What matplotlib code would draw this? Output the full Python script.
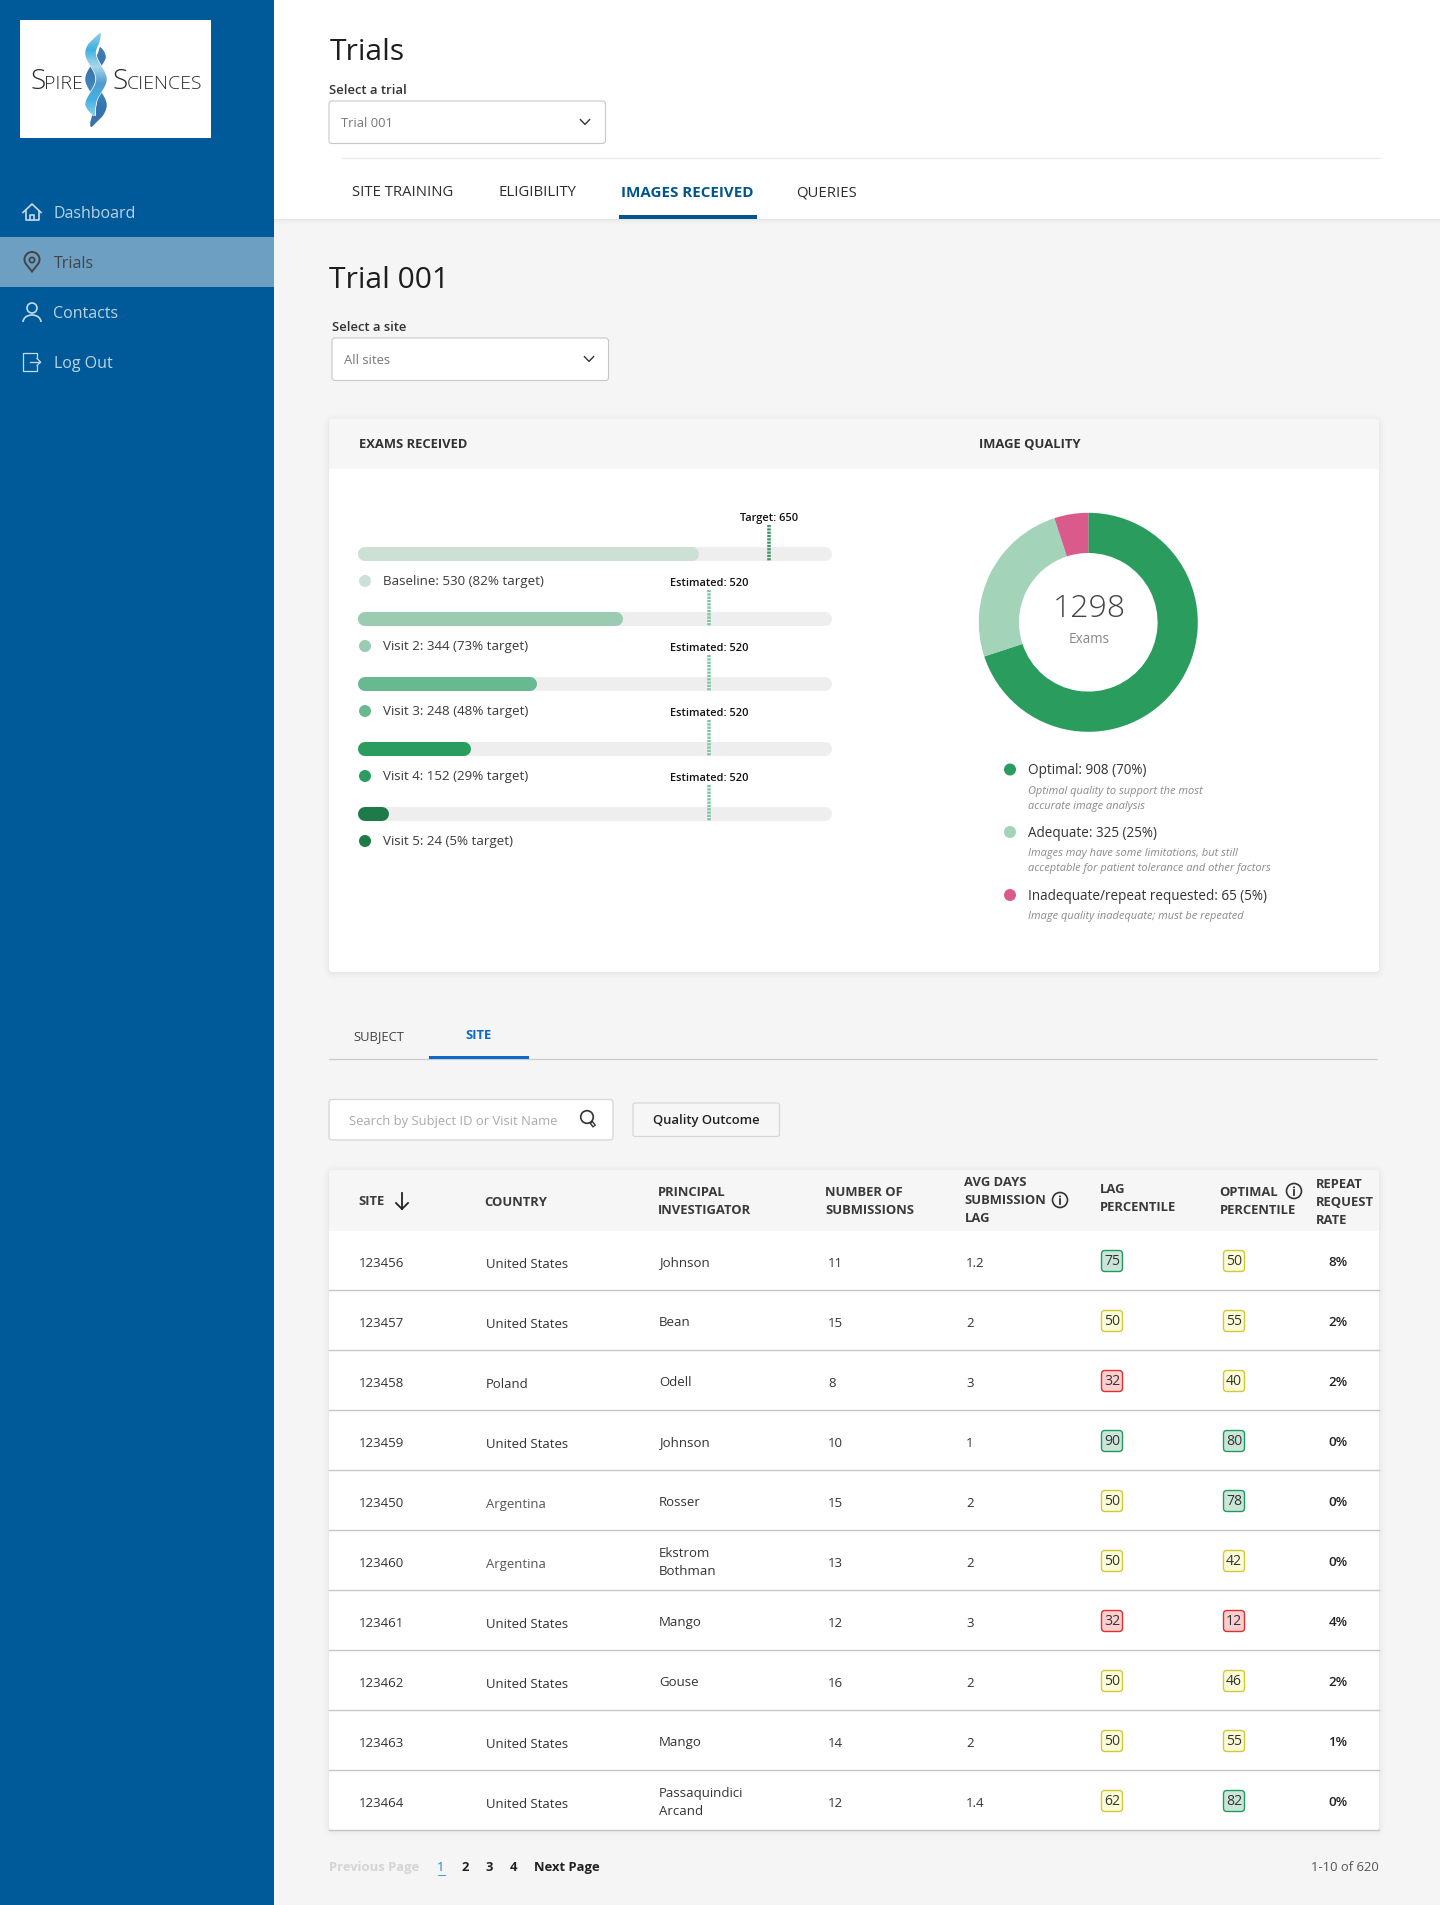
import numpy as np
import matplotlib
matplotlib.use("Agg")
import matplotlib.pyplot as plt
from matplotlib.patches import FancyBboxPatch, Rectangle, Circle, Polygon, Arc

plt.rcParams['font.family'] = ['Open Sans', 'DejaVu Sans']

W, H = 1440, 1905

# ---- data ----
nav_items = ["Dashboard", "Trials", "Contacts", "Log Out"]
top_tabs = ["SITE TRAINING", "ELIGIBILITY", "IMAGES RECEIVED", "QUERIES"]

visit_labels = ["Baseline: 530 (82% target)", "Visit 2: 344 (73% target)", "Visit 3: 248 (48% target)",
                "Visit 4: 152 (29% target)", "Visit 5: 24 (5% target)"]
bar_fill_pct = [72.0, 56.0, 37.8, 23.9, 6.5]
bar_colors = ["#cde0d5", "#9bcbb0", "#68b98f", "#299c5e", "#1f7a4a"]
marker_labels = ["Target: 650", "Estimated: 520", "Estimated: 520", "Estimated: 520", "Estimated: 520"]
marker_pct = [86.7, 74.0, 74.0, 74.0, 74.0]
marker_colors = ["#3f9469", "#7fc6a3", "#7fc6a3", "#7fc6a3", "#7fc6a3"]

quality_values = [908, 325, 65]
quality_colors = ["#2a9c5e", "#a3d3b8", "#db5a8c"]
quality_labels = ["Optimal: 908 (70%)", "Adequate: 325 (25%)", "Inadequate/repeat requested: 65 (5%)"]
quality_notes = [["Optimal quality to support the most", "accurate image analysis"],
                 ["Images may have some limitations, but still", "acceptable for patient tolerance and other factors"],
                 ["Image quality inadequate; must be repeated"]]

site_ids = ["123456", "123457", "123458", "123459", "123450", "123460", "123461", "123462", "123463", "123464"]
countries = ["United States", "United States", "Poland", "United States", "Argentina",
             "Argentina", "United States", "United States", "United States", "United States"]
investigators = ["Johnson", "Bean", "Odell", "Johnson", "Rosser", "Ekstrom\nBothman",
                 "Mango", "Gouse", "Mango", "Passaquindici\nArcand"]
submissions = ["11", "15", "8", "10", "15", "13", "12", "16", "14", "12"]
avg_days = ["1.2", "2", "3", "1", "2", "2", "3", "2", "2", "1.4"]
lag_pct = [75, 50, 32, 90, 50, 50, 32, 50, 50, 62]
optimal_pct = [50, 55, 40, 80, 78, 42, 12, 46, 55, 82]
repeat_rate = ["8%", "2%", "2%", "0%", "0%", "0%", "4%", "2%", "1%", "0%"]
page_numbers = ["1", "2", "3", "4"]

# ---- helpers ----
fig = plt.figure(figsize=(W / 100, H / 100), dpi=100, facecolor="#f5f5f5")
ax = fig.add_axes([0, 0, 1, 1])
ax.set_xlim(0, W)
ax.set_ylim(H, 0)
ax.axis("off")


def px(s):
    return s * 0.72


def T(x, y, s, size=14, color="#333333", weight="normal", ha="left", va="center", style="normal", a=ax, z=10):
    return a.text(x, y + 1.2, s, fontsize=px(size), color=color, fontweight=weight, ha=ha, va=va,
                  fontstyle=style, zorder=z)


def rrect(x0, y0, x1, y1, r=3, fc="white", ec="none", lw=0, z=2, alpha=None):
    p = FancyBboxPatch((x0 + r, y0 + r), x1 - x0 - 2 * r, y1 - y0 - 2 * r,
                       boxstyle=f"round,pad={r},rounding_size={r}", fc=fc, ec=ec, lw=lw, zorder=z, alpha=alpha)
    ax.add_patch(p)
    return p


def shadow(x0, y0, x1, y1, r=5, z=1):
    for d, al in ((6, 0.006), (4, 0.01), (2, 0.012), (1, 0.016)):
        rrect(x0 - d, y0 - d + 1, x1 + d, y1 + d + 1, r + d, fc="black", z=z, alpha=al)


def chevron(cx, cy, color="#333333"):
    ax.plot([cx - 4.6, cx, cx + 4.6], [cy - 2.4, cy + 2.4, cy - 2.4], color=color, lw=1.0, zorder=10)


def info(cx, cy, r=7.5):
    ax.add_patch(Circle((cx, cy), r, fc="none", ec="#333333", lw=1.2, zorder=10))
    ax.plot([cx, cx], [cy - 1, cy + 4], color="#333333", lw=1.3, zorder=10)
    ax.add_patch(Circle((cx, cy - 3.6), 1.0, fc="#333333", ec="none", zorder=10))


# ---- page frame ----
ax.add_patch(Rectangle((274, 0), W - 274, 219, fc="white", ec="none", zorder=1))
for d, al in ((5, .012), (3, .018), (1, .03)):
    ax.add_patch(Rectangle((274, 219), W - 274, d, fc="black", ec="none", alpha=al, zorder=1))
ax.add_patch(Rectangle((0, 0), 274, H, fc="#005a9a", ec="none", zorder=3))
ax.add_patch(Rectangle((0, 237), 274, 50, fc="#6d9fc3", ec="none", zorder=4))

# logo
ax.add_patch(Rectangle((20, 20), 191, 118, fc="white", ec="none", zorder=4))
LOGO = "#2b2b2b"
for x, y, s, fs in ((31, 80.5, "S", 28), (44, 83, "PIRE", 19.5), (113, 80.5, "S", 28), (127, 83, "CIENCES", 19.5)):
    T(x, y, s, fs, LOGO, "light", z=6)


def ribbon(y0, y1, sign, colors, z, halo=False):
    ys = np.linspace(y0, y1, int(y1 - y0) * 2 + 1)
    xc = 96 + sign * 5.4 * np.cos(2 * np.pi * (ys - 27) / 52)
    taper = np.clip((ys - y0) / 11, 0, 1) * np.clip((y1 - ys) / 11, 0, 1)
    hw = 5.2 * taper ** 0.7
    if halo:
        ax.add_patch(Polygon(np.r_[np.c_[xc - hw - 0.9, ys], np.c_[xc + hw + 0.9, ys][::-1]],
                             fc="white", ec="none", zorder=z - 0.05))
    frac = (ys - y0) / (y1 - y0)
    pos = np.linspace(0, 1, len(colors))
    cols = np.array([matplotlib.colors.to_rgb(c) for c in colors])
    for i in range(len(ys) - 1):
        c = [np.interp(frac[i], pos, cols[:, k]) for k in range(3)]
        ax.add_patch(Polygon([(xc[i] - hw[i], ys[i]), (xc[i] + hw[i], ys[i]),
                              (xc[i + 1] + hw[i + 1], ys[i + 1] + .2), (xc[i + 1] - hw[i + 1], ys[i + 1] + .2)],
                             fc=c, ec="none", zorder=z))


ribbon(47, 127, -1, ["#2f6fa9", "#1c5f9f", "#2a76b5", "#1a62a6", "#1f5f9c"], 4.6)
ribbon(33, 116, 1, ["#7fc8ea", "#26a6de", "#9ed2ea", "#3b8fc8", "#2aa8e0", "#7fc8ea"], 4.8, halo=True)

# nav
nav_y = [213, 263, 313, 363]
for name, y in zip(nav_items, nav_y):
    T(53.5, y, name, 16, "#444444" if name == "Trials" else "#bcd3e5", z=6)
IC = "#c6daea"
# home
ax.plot([23, 32, 41], [212.5, 204, 212.5], color=IC, lw=1.2, zorder=6)
ax.plot([25.5, 25.5, 38.5, 38.5], [211, 220, 220, 211], color=IC, lw=1.2, zorder=6)
ax.plot([30, 30, 34, 34], [220, 214.5, 214.5, 220], color=IC, lw=1.2, zorder=6)
# pin
tt = np.linspace(np.radians(-215), np.radians(35), 50)
pinx = 32 + 7.5 * np.cos(tt)
piny = 259.5 + 7.5 * np.sin(tt)
ax.add_patch(Polygon(np.r_[np.c_[pinx, piny], [[32, 271.5]]], fc="none", ec="#444444", lw=1.4, zorder=6))
ax.add_patch(Circle((32, 260), 2.6, fc="none", ec="#444444", lw=1.3, zorder=6))
# person
ax.add_patch(Circle((32, 308), 5, fc="none", ec=IC, lw=1.2, zorder=6))
ax.add_patch(Arc((32, 322), 18, 14, theta1=180, theta2=360, ec=IC, lw=1.2, zorder=6))
# logout
ax.plot([37, 37, 23, 23, 37, 37], [358, 353, 353, 371, 371, 366], color=IC, lw=0.9, zorder=6)
ax.plot([30, 40], [362, 362], color=IC, lw=0.9, zorder=6)
ax.plot([37, 40.5, 37], [358.5, 362, 365.5], color=IC, lw=0.9, zorder=6)

# heading
T(330, 51, "Trials", 30, "#1e1e1e", z=6)
T(329, 89, "Select a trial", 13, "#333333", "semibold")
rrect(329, 101, 605.5, 143.5, 3, "white", "#c8c8c8", 0.8, z=3)
T(341, 122.5, "Trial 001", 13, "#777777")
chevron(585, 122)
ax.plot([342, 1380], [158, 158], color="#ececec", lw=0.9, zorder=3)
tab_x = [352, 499, 621, 796.5]
for name, x in zip(top_tabs, tab_x):
    act = name == "IMAGES RECEIVED"
    T(x, 191.5, name, 15.1 if act else 14.9, "#00558f" if act else "#2c2c2c", "bold" if act else "normal")
ax.add_patch(Rectangle((619, 215), 138, 4, fc="#00558f", ec="none", zorder=4))

T(329, 279, "Trial 001", 30, "#1e1e1e")
T(332, 326, "Select a site", 13, "#333333", "semibold")
rrect(332, 338, 608.5, 380.5, 3, "white", "#c8c8c8", 0.8, z=3)
T(344, 359.5, "All sites", 13, "#777777")
chevron(589, 359)

# card
shadow(329, 419, 1379, 972)
rrect(329, 419, 1379, 972, 4, "white", z=2)
rrect(329, 419, 1379, 475, 4, "#f6f6f6", z=2.1)
ax.add_patch(Rectangle((329, 469), 1050, 12, fc="white", ec="none", zorder=2.2))
T(359, 443.5, "EXAMS RECEIVED", 13, "#333333", "bold")
T(979, 443.5, "IMAGE QUALITY", 13, "#333333", "bold")

# progress bars on their own percent / row scale
TX0, TX1 = 358, 832
BY0, BY1 = 515, 835
STEP = 65
ROW0 = 554
ab = fig.add_axes([TX0 / W, 1 - BY1 / H, (TX1 - TX0) / W, (BY1 - BY0) / H], zorder=5)
ab.patch.set_alpha(0)
ab.axis("off")
ab.set_xlim(0, 100)
ab.set_ylim((BY1 - ROW0) / STEP, (BY0 - ROW0) / STEP)
cap = 7 / (TX1 - TX0) * 100
rows = np.arange(len(bar_fill_pct))
for r, v, c, m, mc in zip(rows, bar_fill_pct, bar_colors, marker_pct, marker_colors):
    ab.plot([cap, 100 - cap], [r, r], color="#eeeeee", lw=px(14), solid_capstyle="round", zorder=1)
    ab.plot([cap, v - cap], [r, r], color=c, lw=px(14), solid_capstyle="round", zorder=2)
    ab.plot([m, m], [r - 29 / STEP, r + 7 / STEP], color=mc, lw=px(3.6), zorder=3,
            linestyle=(0, (0.62, 0.3)), dash_capstyle="butt")

for r, lab, c, mlab, m in zip(rows, visit_labels, bar_colors, marker_labels, marker_pct):
    yy = 581 + STEP * r
    ax.add_patch(Circle((365, yy), 6, fc=c, ec="none", zorder=6))
    T(383, yy - 0.3, lab, 13.45, "#3a3a3a", "medium")
    xm = TX0 + m / 100 * (TX1 - TX0)
    T(xm, 517 + STEP * r, mlab, 11, "#111111", "semibold", ha="center")

# donut
CX, CY, R, RI = 1088.3, 622.3, 109.5, 69.3
ad = fig.add_axes([(CX - R) / W, 1 - (CY + R) / H, 2 * R / W, 2 * R / H], zorder=5)
ad.pie(quality_values, colors=quality_colors, startangle=90, counterclock=False, radius=1,
       wedgeprops=dict(width=(R - RI) / R, edgecolor="none"))
ad.set_xlim(-1, 1)
ad.set_ylim(-1, 1)
T(1089, 607.5, "1298", 32, "#444444", "light", ha="center")
T(1089, 638, "Exams", 13.5, "#888888", ha="center")
leg_y = [769.5, 832, 895]
for y, lab, c, notes in zip(leg_y, quality_labels, quality_colors, quality_notes):
    ax.add_patch(Circle((1010, y), 6, fc=c, ec="none", zorder=6))
    T(1028, y, lab, 13.5, "#333333", "medium")
    for k, n in enumerate(notes):
        T(1028, y + 20.5 + 15 * k, n, 10.95, "#8a8a8a", style="italic")

# sub tabs
T(353, 1035, "SUBJECT", 13, "#444444")
T(479, 1034.5, "SITE", 13, "#0b69c7", "bold", ha="center")
ax.plot([329, 1377], [1059, 1059], color="#cccccc", lw=0.9, zorder=3)
ax.add_patch(Rectangle((429, 1056), 100, 3, fc="#0b69c7", ec="none", zorder=4))
rrect(329, 1099.5, 613, 1140, 3, "white", "#d8d8d8", 1.0, z=3)
T(349, 1120.5, "Search by Subject ID or Visit Name", 13, "#aaaaaa")
ax.add_patch(Circle((587, 1117), 6.3, fc="none", ec="#333333", lw=1.2, zorder=10))
ax.plot([591, 594.5], [1122, 1126.5], color="#333333", lw=3.0, zorder=10, solid_capstyle="butt")
ax.plot([591.8, 593.8], [1123, 1125.6], color="#e6e6e6", lw=1.1, zorder=11, solid_capstyle="butt")
rrect(633, 1103, 779.5, 1136.5, 2, "#f6f6f6", "#d8d8d8", 0.9, z=3)
T(706, 1119.5, "Quality Outcome", 13, "#222222", "semibold", ha="center")

# table
shadow(329, 1170, 1379, 1830)
rrect(329, 1170, 1379, 1830.5, 4, "white", z=2)
rrect(329, 1170, 1379, 1240, 4, "#f6f6f6", z=2.1)
ax.add_patch(Rectangle((329, 1231), 1050, 14, fc="white", ec="none", zorder=2.2))
HB = dict(size=13, color="#3a3a3a", weight="bold")
T(358.5, 1200.5, "SITE", **HB)
ax.plot([402, 402], [1193, 1209], color="#222222", lw=1.3, zorder=10)
ax.plot([396, 402, 408], [1203, 1209, 1203], color="#222222", lw=1.3, zorder=10)
T(484, 1201.5, "COUNTRY", **HB)
for x, lines in ((658, [(1191.5, "PRINCIPAL"), (1209.5, "INVESTIGATOR")]),
                 (825, [(1191.5, "NUMBER OF"), (1209.5, "SUBMISSIONS")]),
                 (964.5, [(1181.5, "AVG DAYS"), (1199.5, "SUBMISSION"), (1217.5, "LAG")]),
                 (1100, [(1188, "LAG"), (1206, "PERCENTILE")]),
                 (1219.5, [(1191, "OPTIMAL"), (1209, "PERCENTILE")]),
                 (1316, [(1183, "REPEAT"), (1201, "REQUEST"), (1219, "RATE")])):
    for y, s in lines:
        T(x, y, s, **HB)
info(1060, 1200)
info(1294, 1191)

GREEN = ("#cbe6d8", "#1f9a5c")
YELLOW = ("#fdfcd8", "#cfc93a")
RED = ("#f9cfcf", "#e52d2d")


def badge(cx, cy, v):
    fc, ec = GREEN if v >= 75 else RED if v <= 32 else YELLOW
    rrect(cx - 10.5, cy - 10.5, cx + 10.5, cy + 10.5, 3.5, fc, ec, 1.0, z=5)
    T(cx, cy - 0.7, str(v), 14, "#333333", ha="center")


for i in range(len(site_ids)):
    yc = 1263 + 60 * i
    ax.plot([329, 1379], [yc + 27, yc + 27], color="#c6c6c6", lw=1.0, zorder=3)
    T(359, yc - 0.5, site_ids[i], 13.3, "#333333")
    T(486, yc, countries[i], 13.15, "#555555" if countries[i] == "Argentina" else "#333333")
    parts = investigators[i].split("\n")
    if len(parts) == 1:
        T(659, yc - 2, parts[0], 13.3)
    else:
        T(659, yc - 11, parts[0], 13.3)
        T(659, yc + 7, parts[1], 13.3)
    T(828, yc - 0.3, submissions[i], 13.3)
    T(966, yc - 0.3, avg_days[i], 13.3)
    badge(1112, yc - 2, lag_pct[i])
    badge(1234, yc - 2, optimal_pct[i])
    T(1338, yc - 1.5, repeat_rate[i], 13.4, "#222222", "semibold", ha="center")

# pagination
PY = 1866
T(329, PY, "Previous Page", 13, "#d4d4d4", "bold")
page_x = [441, 465, 489, 513.5]
for s, x in zip(page_numbers, page_x):
    T(x, PY, s, 13, "#1e88c7" if s == "1" else "#222222", "normal" if s == "1" else "bold", ha="center")
ax.plot([437.5, 444.5], [1875, 1875], color="#1e88c7", lw=0.6, zorder=10)
T(534, PY, "Next Page", 13, "#222222", "bold")
T(1379, PY, "1-10 of 620", 13, "#555555", ha="right")

fig.savefig("out.png", dpi=100, facecolor=fig.get_facecolor())
